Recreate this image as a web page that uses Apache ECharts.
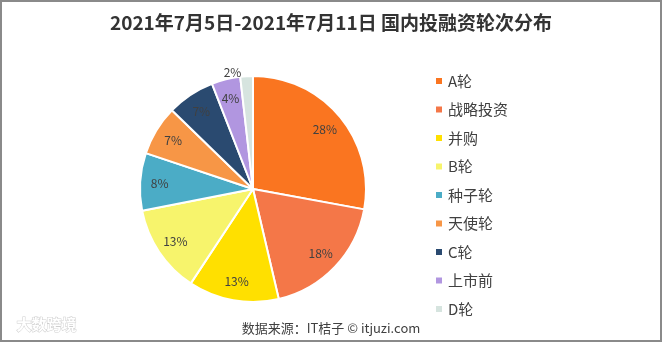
<!DOCTYPE html>
<html>
<head>
<meta charset="utf-8">
<script src="https://cdn.jsdelivr.net/npm/echarts@6/dist/echarts.min.js"></script>
<style>
html,body{margin:0;padding:0;background:#fff;}
#c{width:662px;height:342px;box-sizing:border-box;border:2px solid #8a8a8a;}
</style>
</head>
<body>
<div id="c"></div>
<script>
var titleText = '2021年7月5日-2021年7月11日 国内投融资轮次分布';
var sourceText = '数据来源：IT桔子 © itjuzi.com';
var categories = ['A轮', '战略投资', '并购', 'B轮', '种子轮', '天使轮', 'C轮', '上市前', 'D轮'];
var values = [27.8, 18.4, 12.9, 12.6, 8.2, 7.1, 6.8, 4.1, 1.8];
var colors = ['#FA7520', '#F47748', '#FFE000', '#F7F46C', '#4BACC6', '#F79646', '#2A4A70', '#B196E0', '#D6E4DF'];

var dataMain = categories.map(function (n, i) {
  return { name: n, value: values[i], itemStyle: { color: colors[i] } };
});
var dataLabel = categories.map(function (n, i) {
  var d = { name: n, value: values[i] };
  if (i === categories.length - 1) {
    d.label = { position: 'outside' };
  }
  return d;
});

var chart = echarts.init(document.getElementById('c'), null, { renderer: 'canvas' });
var font = '"Noto Sans CJK SC", "Microsoft YaHei", sans-serif';
chart.setOption({
  animation: false,
  title: {
    text: titleText,
    left: 'center',
    top: 6,
    textStyle: { fontSize: 19, fontWeight: 'bold', color: '#333', fontFamily: font }
  },
  legend: {
    orient: 'vertical',
    left: 427,
    top: 64,
    itemWidth: 8,
    itemHeight: 8,
    itemGap: 8.5,
    icon: 'rect',
    data: categories,
    textStyle: { fontSize: 15, color: '#404040', fontFamily: font, lineHeight: 20 }
  },
  graphic: [
    {
      type: 'text', left: 'center', top: 320,
      style: { text: sourceText, fontSize: 13, fill: '#404040', fontFamily: font }
    },
    {
      type: 'text', left: 14, top: 314,
      style: { text: '大数跨境', fontSize: 15, fill: '#fff', stroke: '#cfcfcf', lineWidth: 1, fontFamily: font, fontWeight: 'bold' }
    }
  ],
  series: [
    {
      type: 'pie',
      center: [251, 187],
      radius: [0, 113],
      startAngle: 90,
      clockwise: true,
      data: dataMain,
      label: { show: false },
      labelLine: { show: false },
      itemStyle: { borderColor: '#fff', borderWidth: 2 },
      silent: true
    },
    {
      type: 'pie',
      center: [251, 187],
      radius: [68, 113],
      startAngle: 90,
      clockwise: true,
      data: dataLabel,
      silent: true,
      itemStyle: { color: 'rgba(0,0,0,0)', borderWidth: 0 },
      label: {
        show: true,
        position: 'inside',
        color: '#404040',
        fontSize: 12,
        fontFamily: font,
        formatter: function (p) { return Math.round(p.value) + '%'; }
      },
      labelLine: { show: false, length: 4, length2: 0 },
      emphasis: { disabled: true }
    }
  ]
});
</script>
</body>
</html>
